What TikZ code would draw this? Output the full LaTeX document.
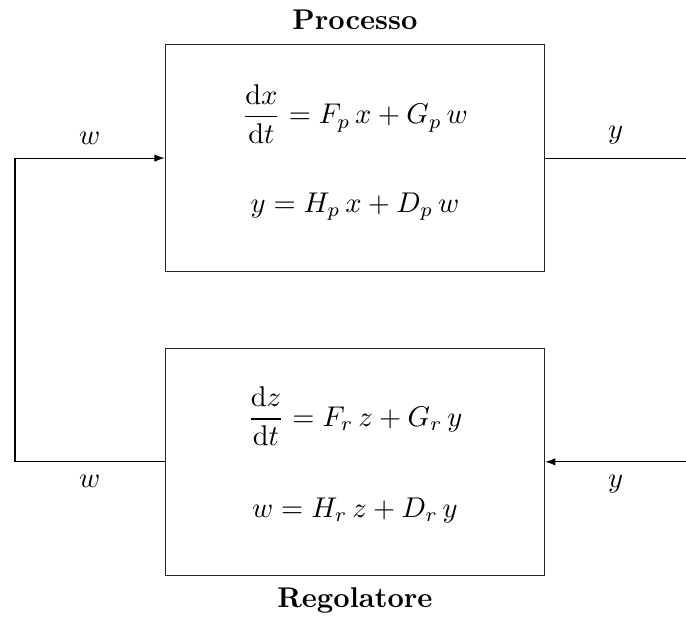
\documentclass[tikz,border=0pt]{standalone}
\usepackage{amsmath}
\usetikzlibrary{arrows.meta,positioning,calc}
\tikzset{box/.style={draw=black!85,minimum width=133pt,minimum height=79.5pt,inner sep=0pt,align=center},title/.style={font=\bfseries},sig/.style={inner sep=4.6pt},arrow/.style={-{Latex[length=3.6pt,width=2.6pt]},draw=black},wire/.style={draw=black}}
\begin{document}
\begin{tikzpicture}
\node[box] (proc) {$\begin{array}{c}\dfrac{\mathrm{d}x}{\mathrm{d}t}=F_p\,x+G_p\,w\\[19pt] y=H_p\,x+D_p\,w\rule[-6.7pt]{0pt}{0pt}\end{array}$};
\node[box,below=26.6pt of proc] (reg) {$\begin{array}{c}\dfrac{\mathrm{d}z}{\mathrm{d}t}=F_r\,z+G_r\,y\\[20pt] w=H_r\,z+D_r\,y\rule[-6.7pt]{0pt}{0pt}\end{array}$};
\node[title,above=1.7pt of proc] (proctitle) {Processo};
\node[title,below=0.7pt of reg] (regtitle) {Regolatore};
\coordinate[left=52.5pt of proc.west] (wtop);\coordinate[left=52.5pt of reg.west] (wbot);
\coordinate[right=49.4pt of proc.east] (yout);\coordinate[right=49.4pt of reg.east] (yin);
\useasboundingbox ($(wtop|-proc.north)+(-5.25pt,15.4pt)$) rectangle ($(yout|-reg.south)+(0,-14.7pt)$);
\draw[arrow] (reg.west) -- node[sig,below] (wlabbot) {$w$} (wbot) -- (wtop) -- node[sig,above] (wlabtop) {$w$} (proc.west);
\draw[wire] (proc.east) -- node[sig,above] (ylabtop) {$y$} (yout);
\draw[arrow] (yin) -- node[sig,below] (ylabbot) {$y$} (reg.east);
\end{tikzpicture}
\end{document}
